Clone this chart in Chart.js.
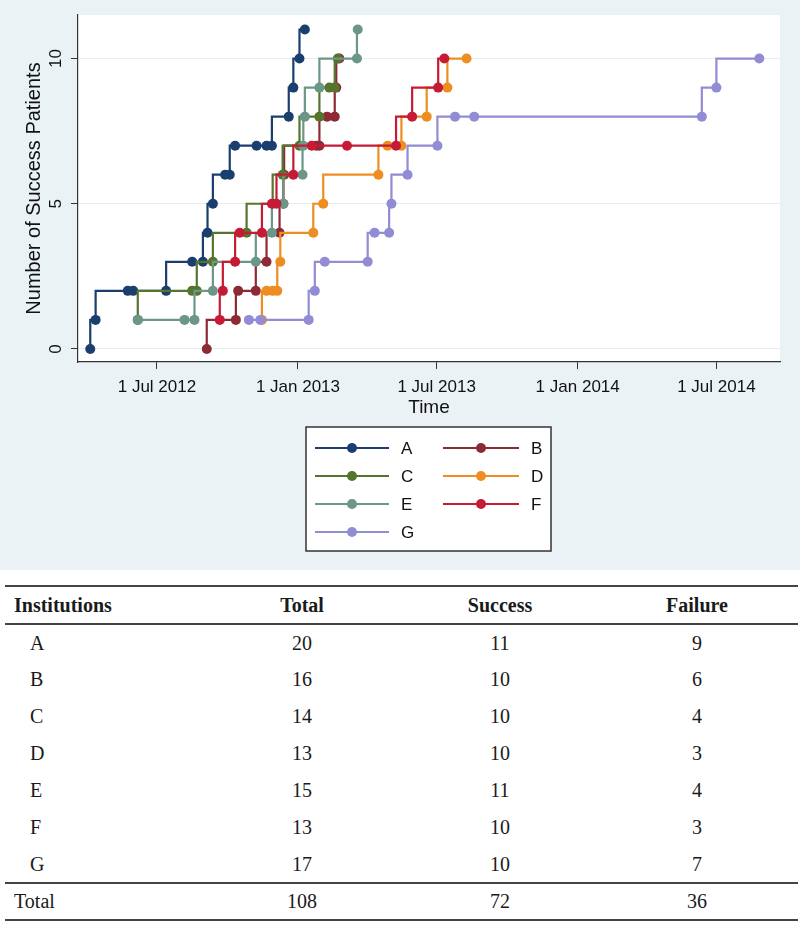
<!DOCTYPE html>
<html lang="en">
<head>
<meta charset="UTF-8">
<title>Success patients by institution</title>
<script src="https://cdn.jsdelivr.net/npm/chart.js"></script>
<style>
    body { margin: 0; background: #ffffff; }
    #chartWrap { width: 800px; height: 570px; background: #eaf2f6; }
    #summary {
        margin: 15px 0 0 5px;
        width: 793px;
        border-collapse: collapse;
        table-layout: fixed;
        font-family: "Liberation Serif", "Times New Roman", serif;
        font-size: 20px;
        color: #1a1a1a;
    }
    #summary th, #summary td { padding: 0; text-align: center; }
    #summary th { font-weight: bold; }
    #summary thead tr { height: 38px; border-top: 2.5px solid #444; border-bottom: 2px solid #444; }
    #summary tbody tr { height: 37px; }
    #summary tfoot tr { height: 37px; border-top: 2px solid #444; border-bottom: 2px solid #444; }
    #summary .first { text-align: left; padding-left: 9px; }
    #summary .letter { text-align: left; padding-left: 25px; }
</style>
</head>
<body>
<div id="chartWrap"><canvas id="successChart" width="800" height="570"></canvas></div>

<table id="summary">
    <colgroup><col style="width:195px"><col style="width:204px"><col style="width:192px"><col style="width:202px"></colgroup>
    <thead><tr><th class="first">Institutions</th><th>Total</th><th>Success</th><th>Failure</th></tr></thead>
    <tbody id="summaryBody"></tbody>
    <tfoot id="summaryFoot"></tfoot>
</table>

<script>
    // institutions and their colours (Stata s2color order)
    const institutions = ['A', 'B', 'C', 'D', 'E', 'F', 'G'];
    const colors = ['#1a3f6f', '#8e2a35', '#55752f', '#ee8d22', '#6c9688', '#c51b35', '#918cd4'];

    // event dates and cumulative number of success patients
    const datesA = ['2012-04-05','2012-04-12','2012-05-24','2012-05-31','2012-07-13','2012-08-16','2012-08-30','2012-09-05','2012-09-12','2012-09-28','2012-10-04','2012-10-11','2012-11-08','2012-11-21','2012-11-28','2012-12-20','2012-12-26','2013-01-03','2013-01-10'];
    const countsA = [0,1,2,2,2,3,3,4,5,6,6,7,7,7,7,8,9,10,11];

    const datesB = ['2012-09-04','2012-10-12','2012-10-15','2012-11-07','2012-11-21','2012-12-08','2012-12-13','2012-12-14','2013-01-25','2013-01-29','2013-02-08','2013-02-18','2013-02-20','2013-02-24'];
    const countsB = [0,1,2,2,3,4,5,6,7,7,8,8,9,10];

    const datesC = ['2012-06-06','2012-08-16','2012-08-22','2012-09-12','2012-10-26','2012-11-29','2012-12-12','2013-01-03','2013-01-29','2013-02-11','2013-02-18','2013-02-22'];
    const countsC = [1,2,2,3,4,5,6,7,8,9,9,10];

    const datesD = ['2012-11-15','2012-11-21','2012-11-29','2012-12-05','2012-12-09','2013-01-21','2013-02-03','2013-04-16','2013-04-28','2013-05-16','2013-06-18','2013-07-15','2013-08-09'];
    const countsD = [1,2,2,2,3,4,5,6,7,7,8,9,10];

    const datesE = ['2012-06-06','2012-08-06','2012-08-19','2012-09-12','2012-11-07','2012-11-28','2012-12-13','2013-01-07','2013-01-08','2013-01-10','2013-01-29','2013-03-19','2013-03-20'];
    const countsE = [1,1,1,2,3,4,5,6,7,8,9,10,11];

    const datesF = ['2012-09-21','2012-09-25','2012-10-11','2012-10-17','2012-11-15','2012-11-28','2012-12-04','2012-12-26','2013-01-19','2013-03-06','2013-05-09','2013-05-30','2013-07-03','2013-07-11'];
    const countsF = [1,2,3,4,4,5,5,6,7,7,7,8,9,10];

    const datesG = ['2012-10-29','2012-11-13','2013-01-15','2013-01-23','2013-02-05','2013-04-02','2013-04-11','2013-04-30','2013-05-03','2013-05-24','2013-07-02','2013-07-25','2013-08-19','2014-06-12','2014-07-01','2014-08-26'];
    const countsG = [1,1,1,2,3,3,4,4,5,6,7,8,8,8,9,10];

    // axis ticks and range
    const xTickDates = ['2012-07-01', '2013-01-01', '2013-07-01', '2014-01-01', '2014-07-01'];
    const xRange = ['2012-03-20', '2014-09-22'];
    const yTicks = [0, 5, 10];

    // summary table
    const tableTotal = [20, 16, 14, 13, 15, 13, 17];
    const tableSuccess = [11, 10, 10, 10, 11, 10, 10];
    const tableFailure = [9, 6, 4, 3, 4, 3, 7];
    const grandTotal = [108, 72, 36];

    const DAY = 86400000;
    const MONTHS = ['Jan','Feb','Mar','Apr','May','Jun','Jul','Aug','Sep','Oct','Nov','Dec'];

    function dayNum(s) {
        const p = s.split('-').map(Number);
        return Date.UTC(p[0], p[1] - 1, p[2]) / DAY;
    }
    function fmtDay(n) {
        const d = new Date(Math.round(n) * DAY);
        return d.getUTCDate() + ' ' + MONTHS[d.getUTCMonth()] + ' ' + d.getUTCFullYear();
    }
    function toPoints(dates, counts) {
        return dates.map((d, i) => ({ x: dayNum(d), y: counts[i] }));
    }

    const allDates = [datesA, datesB, datesC, datesD, datesE, datesF, datesG];
    const allCounts = [countsA, countsB, countsC, countsD, countsE, countsF, countsG];

    const datasets = institutions.map((name, i) => ({
        label: name,
        data: toPoints(allDates[i], allCounts[i]),
        borderColor: colors[i],
        backgroundColor: colors[i],
        pointBackgroundColor: colors[i],
        pointBorderWidth: 0,
        pointRadius: 5,
        borderWidth: 2.2,
        stepped: 'after',
        fill: false,
        order: -i
    }));

    // white plot region, rotated y labels and the boxed legend
    const stataLook = {
        id: 'stataLook',
        beforeDraw(chart) {
            const a = chart.chartArea, ctx = chart.ctx;
            ctx.save();
            ctx.fillStyle = '#ffffff';
            ctx.fillRect(a.left, a.top, a.right - a.left, a.bottom - a.top);
            ctx.restore();
        },
        afterDraw(chart) {
            const ctx = chart.ctx;
            const y = chart.scales.y;
            ctx.save();
            ctx.fillStyle = '#111';
            ctx.font = '17px "Liberation Sans", Arial, sans-serif';
            ctx.textAlign = 'center';
            ctx.textBaseline = 'middle';
            yTicks.forEach(v => {
                ctx.save();
                ctx.translate(y.left + 56, y.getPixelForValue(v));
                ctx.rotate(-Math.PI / 2);
                ctx.fillText(String(v), 0, 0);
                ctx.restore();
            });

            // legend box
            const bx = 306, by = 427, bw = 245, bh = 124;
            ctx.fillStyle = '#ffffff';
            ctx.fillRect(bx, by, bw, bh);
            ctx.strokeStyle = '#333';
            ctx.lineWidth = 1.5;
            ctx.strokeRect(bx, by, bw, bh);
            ctx.font = '17px "Liberation Sans", Arial, sans-serif';
            ctx.textAlign = 'left';
            chart.data.datasets.forEach((ds, i) => {
                const col = i % 2, row = Math.floor(i / 2);
                const x0 = col === 0 ? 315 : 443;
                const x1 = col === 0 ? 389 : 519;
                const ly = 448 + row * 28;
                ctx.strokeStyle = ds.borderColor;
                ctx.lineWidth = 2.2;
                ctx.beginPath();
                ctx.moveTo(x0, ly);
                ctx.lineTo(x1, ly);
                ctx.stroke();
                ctx.fillStyle = ds.borderColor;
                ctx.beginPath();
                ctx.arc((x0 + x1) / 2, ly, 5, 0, Math.PI * 2);
                ctx.fill();
                ctx.fillStyle = '#111';
                ctx.fillText(ds.label, x1 + 12, ly + 1);
            });
            ctx.restore();
        }
    };

    new Chart(document.getElementById('successChart'), {
        type: 'line',
        data: { datasets: datasets },
        plugins: [stataLook],
        options: {
            responsive: false,
            animation: false,
            devicePixelRatio: 1,
            layout: { padding: { left: 0, right: 20, top: 15, bottom: 151 } },
            plugins: { legend: { display: false }, tooltip: { enabled: false } },
            scales: {
                x: {
                    type: 'linear',
                    min: dayNum(xRange[0]),
                    max: dayNum(xRange[1]),
                    afterBuildTicks: s => { s.ticks = xTickDates.map(d => ({ value: dayNum(d) })); },
                    afterFit: s => { s.height = 57; },
                    grid: { drawOnChartArea: false, drawTicks: true, tickLength: 7, tickColor: '#333', color: '#333' },
                    border: { display: true, color: '#333', width: 1.2 },
                    ticks: {
                        color: '#111',
                        padding: 8,
                        maxRotation: 0,
                        font: { family: '"Liberation Sans", Arial, sans-serif', size: 17 },
                        callback: v => fmtDay(v)
                    },
                    title: {
                        display: true,
                        text: 'Time',
                        color: '#111',
                        padding: { top: 0, bottom: 0 },
                        font: { family: '"Liberation Sans", Arial, sans-serif', size: 19 }
                    }
                },
                y: {
                    type: 'linear',
                    min: -0.45,
                    max: 11.5,
                    afterBuildTicks: s => { s.ticks = yTicks.map(v => ({ value: v })); },
                    afterFit: s => { s.width = 78; },
                    grid: { color: '#e4edf1', lineWidth: 1, drawTicks: true, tickLength: 7, tickColor: '#333' },
                    border: { display: true, color: '#333', width: 1.2 },
                    ticks: { display: false },
                    title: {
                        display: true,
                        text: 'Number of Success Patients',
                        color: '#111',
                        padding: { top: 22, bottom: 0 },
                        font: { family: '"Liberation Sans", Arial, sans-serif', size: 20 }
                    }
                }
            }
        }
    });

    // fill the summary table
    const body = document.getElementById('summaryBody');
    institutions.forEach((name, i) => {
        const tr = document.createElement('tr');
        tr.innerHTML = '<td class="letter">' + name + '</td><td>' + tableTotal[i] + '</td><td>' +
            tableSuccess[i] + '</td><td>' + tableFailure[i] + '</td>';
        body.appendChild(tr);
    });
    const foot = document.getElementById('summaryFoot');
    foot.innerHTML = '<tr><td class="first">Total</td><td>' + grandTotal[0] + '</td><td>' +
        grandTotal[1] + '</td><td>' + grandTotal[2] + '</td></tr>';
</script>
</body>
</html>
